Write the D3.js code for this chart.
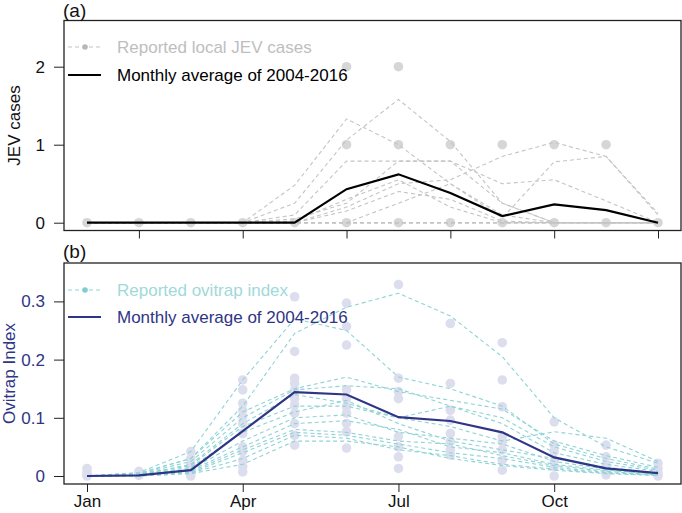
<!DOCTYPE html>
<html>
<head>
<meta charset="utf-8">
<script src="https://cdn.jsdelivr.net/npm/d3@7"></script>
<style>
html,body{margin:0;padding:0;background:#fff;}
svg{display:block;font-family:"Liberation Sans",Arial,Helvetica,sans-serif;}
</style>
</head>
<body>
<svg id="chart" width="682" height="513"></svg>
<script>
// ---------- DATA ----------
const months = [1,2,3,4,5,6,7,8,9,10,11,12];
const monthLabels = ["Jan","Feb","Mar","Apr","May","Jun","Jul","Aug","Sep","Oct","Nov","Dec"];
const jevTicks = [0,1,2];
const oviTicks = [0,0.1,0.2,0.3];
const jevXTicks = [2,4,6,8,10,12];
const oviXTicks = [1,4,7,10];

// Panel (a): yearly dashed lines (2004-2016)
const jevYears = [
  [0,0,0,0,0.48,1.33,1.0,0.5,0.1,0,0,0],
  [0,0,0,0,0.25,1.06,1.58,1.04,0.25,0,0,0],
  [0,0,0,0,0.1,0.79,0.79,0.79,0.5,0.55,0.28,0],
  [0,0,0,0,0.05,0.25,0.79,0.79,0.25,0,0,0],
  [0,0,0,0,0,0.2,0.5,0.55,0.85,1.03,0.85,0.1],
  [0,0,0,0,0,0,0.25,0.5,0.06,0.78,0.85,0.12],
  [0,0,0,0,0.02,0.3,0.55,0.2,0,0,0,0],
  [0,0,0,0,0,0.15,0.4,0.3,0.02,0,0,0],
  [0,0,0,0,0,0,0,0,0,0,0,0],
  [0,0,0,0,0,0,0,0,0,0,0,0],
  [0,0,0,0,0,0,0,0,0,0,0,0],
  [0,0,0,0,0,0,0,0,0,0,0,0],
  [0,0,0,0,0,0,0,0,0,0,0,0]
];
// Panel (a): reported points [month, cases]
const jevPoints = [
  [1,0],[2,0],[3,0],[4,0],[5,0],
  [6,0],[6,1],[6,2],
  [7,0],[7,1],[7,2],
  [8,0],[8,1],
  [9,0],[9,1],
  [10,0],[10,1],
  [11,0],[11,1],
  [12,0]
];
const jevMean = [0,0,0,0,0,0.43,0.62,0.38,0.085,0.234,0.162,0];

// Panel (b): yearly dashed lines
const oviYears = [
  [0,0.004,0.03,0.12,0.245,0.29,0.314,0.275,0.205,0.1,0.05,0.022],
  [0,0.006,0.042,0.165,0.27,0.25,0.17,0.15,0.12,0.055,0.03,0.012],
  [0,0.005,0.03,0.11,0.15,0.17,0.145,0.13,0.115,0.06,0.035,0.015],
  [0,0.003,0.025,0.1,0.148,0.155,0.15,0.12,0.09,0.04,0.02,0.008],
  [0,0.002,0.02,0.09,0.14,0.125,0.1,0.12,0.1,0.05,0.025,0.01],
  [0,0.003,0.018,0.085,0.12,0.12,0.1,0.085,0.06,0.076,0.065,0.025],
  [0,0.002,0.015,0.075,0.11,0.13,0.09,0.06,0.045,0.03,0.015,0.005],
  [0,0.002,0.012,0.06,0.1,0.105,0.075,0.065,0.055,0.025,0.012,0.004],
  [0,0.001,0.01,0.05,0.09,0.095,0.08,0.05,0.04,0.02,0.01,0.003],
  [0,0.001,0.008,0.045,0.08,0.075,0.06,0.055,0.035,0.018,0.008,0.002],
  [0,0.001,0.006,0.04,0.075,0.07,0.055,0.04,0.03,0.015,0.006,0.002],
  [0,0,0.005,0.03,0.07,0.065,0.045,0.035,0.02,0.012,0.005,0.001],
  [0,0,0.004,0.02,0.06,0.06,0.05,0.03,0.018,0.01,0.004,0.001]
];
// Panel (b): reported points, per month
const oviPointsByMonth = [
  [0.013,0.007,0.002,0],
  [0.008,0.004,0.001],
  [0.042,0.03,0.02,0.012,0.005,0],
  [0.165,0.148,0.125,0.113,0.102,0.09,0.073,0.05,0.042,0.027,0.016,0.007],
  [0.308,0.214,0.168,0.159,0.148,0.133,0.122,0.108,0.09,0.07,0.053],
  [0.297,0.257,0.225,0.148,0.133,0.119,0.108,0.09,0.076,0.048],
  [0.329,0.168,0.145,0.133,0.068,0.05,0.033,0.013],
  [0.262,0.159,0.113,0.096,0.073,0.059,0.045,0.036],
  [0.229,0.165,0.119,0.068,0.059,0.045,0.027,0.01],
  [0.093,0.053,0.042,0.027,0.016,0],
  [0.053,0.033,0.019,0.007,0.002],
  [0.022,0.013,0.005,0]
];
const oviMean = [0,0.001,0.01,0.077,0.144,0.14,0.101,0.0945,0.075,0.032,0.013,0.005];

// ---------- STYLE ----------
const FONT = 17;
const grayLine = "#c4c4c4", grayPt = "#d6d6d6", grayText = "#bebebe";
const tealLine = "#8fd3d6", lavPt = "#dcdeee", tealText = "#9fd9da";
const navy = "#2f3585";

const svg = d3.select("#chart");
const left = 64, right = 681;
const x = d3.scaleLinear().domain([1,12]).range([87,658]);

function panel(opts){
  const {top, bottom, y, yTicks, yFmt, axisColor, title, titleX, letter, letterY,
         years, lineColor, points, ptColor, mean, meanColor,
         xTicks, xLabels, legText1, legColor1, legText2, legColor2, legY1, legY2, legDot} = opts;
  const g = svg.append("g");
  const line = d3.line().x((d,i)=>x(months[i])).y(d=>y(d));

  // points
  g.selectAll("circle.pt").data(points).join("circle")
    .attr("cx", d=>x(d[0])).attr("cy", d=>y(d[1])).attr("r", 4.8)
    .attr("fill", ptColor);
  // dashed yearly lines
  g.selectAll("path.yr").data(years).join("path")
    .attr("d", line).attr("fill","none").attr("stroke", lineColor)
    .attr("stroke-width",1.1).attr("stroke-dasharray","4,3");
  // mean
  g.append("path").attr("d", line(mean)).attr("fill","none")
    .attr("stroke", meanColor).attr("stroke-width",2.2);

  // box
  g.append("rect").attr("x",left).attr("y",top).attr("width",right-left).attr("height",bottom-top)
    .attr("fill","none").attr("stroke","#222").attr("stroke-width",1.3);

  // y axis
  const ya = g.append("g").attr("transform",`translate(${left},0)`)
    .call(d3.axisLeft(y).tickValues(yTicks).tickFormat(yFmt).tickSize(10).tickPadding(9));
  ya.select(".domain").remove();
  ya.selectAll("line").attr("stroke","#222");
  ya.selectAll("text").attr("font-size",FONT).attr("fill",axisColor)
    .attr("font-family","Liberation Sans, Arial, sans-serif");

  // x axis
  const xa = g.append("g").attr("transform",`translate(0,${bottom})`)
    .call(d3.axisBottom(x).tickValues(xTicks).tickFormat(d=> xLabels ? monthLabels[d-1] : "").tickSize(8).tickPadding(3));
  xa.select(".domain").remove();
  xa.selectAll("line").attr("stroke","#222");
  xa.selectAll("text").attr("font-size",FONT).attr("fill","#111")
    .attr("font-family","Liberation Sans, Arial, sans-serif");

  // y title
  g.append("text").attr("transform",`translate(${titleX},${(top+bottom)/2}) rotate(-90)`)
    .attr("text-anchor","middle").attr("font-size",FONT).attr("fill",axisColor).text(title);
  // panel letter
  g.append("text").attr("x",63).attr("y",letterY).attr("font-size",19).attr("fill","#111").text(letter);

  // legend
  g.append("line").attr("x1",68).attr("x2",101).attr("y1",legY1).attr("y2",legY1)
    .attr("stroke",lineColor).attr("stroke-width",1.1).attr("stroke-dasharray","4,3");
  g.append("circle").attr("cx",85).attr("cy",legY1).attr("r",2.8).attr("fill",legDot);
  g.append("text").attr("x",117).attr("y",legY1).attr("dy","0.35em").attr("font-size",FONT)
    .attr("fill",legColor1).text(legText1);
  g.append("line").attr("x1",68).attr("x2",101).attr("y1",legY2).attr("y2",legY2)
    .attr("stroke",meanColor).attr("stroke-width",2.2);
  g.append("text").attr("x",117).attr("y",legY2).attr("dy","0.35em").attr("font-size",FONT)
    .attr("fill",legColor2).text(legText2);
}

// Panel (a)
const yA = d3.scaleLinear().domain([0,2]).range([222.7,66.7]);
panel({
  top:20.5, bottom:230.5, y:yA, yTicks:jevTicks, yFmt:d3.format("d"), axisColor:"#111",
  title:"JEV cases", titleX:20, letter:"(a)", letterY:17,
  years:jevYears, lineColor:grayLine, points:jevPoints, ptColor:grayPt,
  mean:jevMean, meanColor:"#000",
  xTicks:jevXTicks, xLabels:false,
  legText1:"Reported local JEV cases", legColor1:grayText,
  legText2:"Monthly average of 2004-2016", legColor2:"#000",
  legY1:47, legY2:75, legDot:"#b8b8b8"
});

// Panel (b)
const yB = d3.scaleLinear().domain([0,0.3]).range([476,301.4]);
const oviPoints = [];
oviPointsByMonth.forEach((arr,i)=>arr.forEach(v=>oviPoints.push([months[i],v])));
panel({
  top:263, bottom:484, y:yB, yTicks:oviTicks, yFmt:d=> d===0 ? "0" : d3.format(".1f")(d), axisColor:navy,
  title:"Ovitrap Index", titleX:15, letter:"(b)", letterY:258,
  years:oviYears, lineColor:tealLine, points:oviPoints, ptColor:lavPt,
  mean:oviMean, meanColor:navy,
  xTicks:oviXTicks, xLabels:true,
  legText1:"Reported ovitrap index", legColor1:tealText,
  legText2:"Monthly average of 2004-2016", legColor2:navy,
  legY1:290, legY2:317, legDot:"#7fcfd2"
});
</script>
</body>
</html>
